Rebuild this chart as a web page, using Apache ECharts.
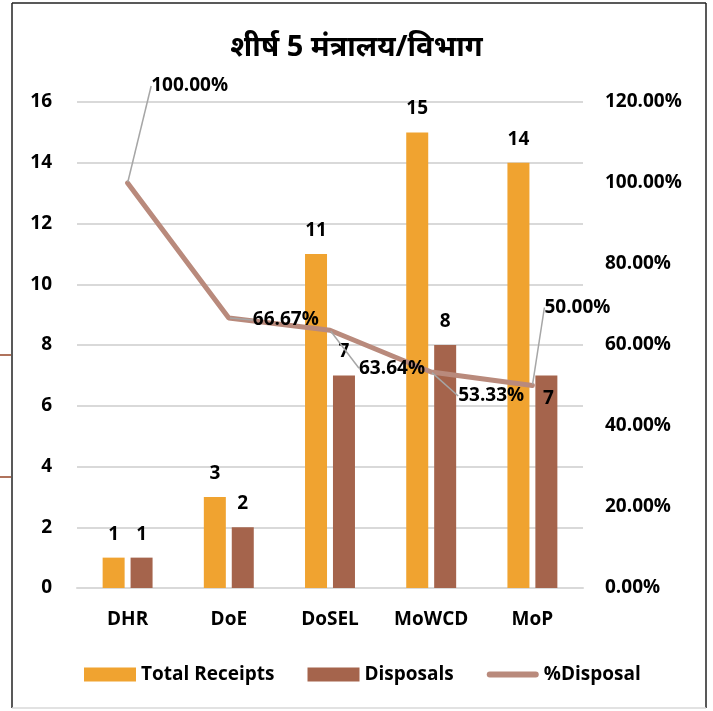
<!DOCTYPE html>
<html>
<head>
<meta charset="utf-8">
<script src="https://cdn.jsdelivr.net/npm/echarts@6/dist/echarts.min.js"></script>
<style>
  html, body { margin: 0; padding: 0; background: #fff; }
  #chart { width: 713px; height: 711px; }
</style>
</head>
<body>
<div id="chart"></div>
<script>
var categories = ['DHR', 'DoE', 'DoSEL', 'MoWCD', 'MoP'];
var totalReceipts = [1, 3, 11, 15, 14];
var disposals = [1, 2, 7, 8, 7];
var pctDisposal = [1.0, 0.6667, 0.6364, 0.5333, 0.5];

// where the % labels sit, relative to their point (px)
var pctLabelShift = [[62, -97], [57, 2], [62, 38], [60, 24], [45, -78]];

var font = '"Open Sans", "Noto Sans", sans-serif';
var myChart = echarts.init(document.getElementById('chart'));

var option = {
    animation: false,
    textStyle: { fontFamily: font },
    title: {
        text: 'शीर्ष 5 मंत्रालय/विभाग',
        left: 'center',
        top: 28,
        textStyle: { color: '#000', fontSize: 29, fontWeight: 'bold', fontFamily: font }
    },
    legend: {
        left: 79,
        top: 660,
        itemWidth: 52,
        itemHeight: 14,
        itemGap: 33,
        textStyle: { color: '#000', fontSize: 19, fontWeight: 'bold' },
        data: [
            { name: 'Total Receipts', icon: 'rect' },
            { name: 'Disposals', icon: 'rect' },
            { name: '%Disposal', icon: 'path://M3,0 L49,0 A3,3 0 0 1 49,6 L3,6 A3,3 0 0 1 3,0 Z' }
        ]
    },
    grid: { left: 77, right: 130, top: 102, bottom: 123 },
    xAxis: {
        type: 'category',
        data: categories,
        axisTick: { show: false },
        axisLine: { lineStyle: { color: '#d9d9d9', width: 2 } },
        axisLabel: { color: '#000', fontSize: 19, fontWeight: 'bold', margin: 22 }
    },
    yAxis: [{
        type: 'value',
        min: 0, max: 16, interval: 2,
        axisLabel: { color: '#000', fontSize: 19, fontWeight: 'bold', margin: 25 },
        splitLine: { lineStyle: { color: '#d9d9d9', width: 2 } }
    }, {
        type: 'value',
        min: 0, max: 1.2, interval: 0.2,
        splitLine: { show: false },
        axisLabel: {
            color: '#000', fontSize: 19, fontWeight: 'bold', margin: 22,
            formatter: function (v) { return (v * 100).toFixed(2) + '%'; }
        }
    }],
    series: [{
        name: 'Total Receipts',
        type: 'bar',
        data: totalReceipts,
        barWidth: 22,
        barGap: '27%',
        itemStyle: { color: '#f0a330' },
        label: { show: true, position: 'top', distance: 14, color: '#000', fontSize: 19, fontWeight: 'bold' }
    }, {
        name: 'Disposals',
        type: 'bar',
        data: disposals.map(function (v, i) {
            if (i === 4) {
                return { value: v, label: { position: 'insideTop', distance: 14, offset: [2, 0] } };
            }
            return v;
        }),
        barWidth: 22,
        itemStyle: { color: '#a5644c' },
        label: { show: true, position: 'top', distance: 14, color: '#000', fontSize: 19, fontWeight: 'bold' }
    }, {
        name: '%Disposal',
        type: 'line',
        yAxisIndex: 1,
        data: pctDisposal,
        symbol: 'circle',
        symbolSize: 2,
        itemStyle: { color: '#b98a7c' },
        lineStyle: { color: '#b98a7c', width: 5, cap: 'round' },
        label: {
            show: true,
            color: '#000', fontSize: 19, fontWeight: 'bold',
            formatter: function (p) { return (p.value * 100).toFixed(2) + '%'; }
        },
        labelLine: { show: true, lineStyle: { color: '#a6a6a6', width: 1.5 } },
        labelLayout: function (p) {
            var s = pctLabelShift[p.dataIndex];
            return {
                x: p.rect.x + p.rect.width / 2 + s[0],
                y: p.rect.y + p.rect.height / 2 + s[1],
                align: 'center',
                verticalAlign: 'middle'
            };
        }
    }],
    graphic: [
        { type: 'line', shape: { x1: 12, y1: 3, x2: 706, y2: 3 }, style: { stroke: '#222', lineWidth: 1.5 } },
        { type: 'line', shape: { x1: 12, y1: 3, x2: 12, y2: 708 }, style: { stroke: '#222', lineWidth: 1.5 } },
        { type: 'line', shape: { x1: 706, y1: 3, x2: 706, y2: 708 }, style: { stroke: '#222', lineWidth: 1.5 } },
        { type: 'line', shape: { x1: 12, y1: 708, x2: 706, y2: 708 }, style: { stroke: '#d9d9d9', lineWidth: 1.5 } },
        { type: 'line', shape: { x1: 0, y1: 355, x2: 11, y2: 355 }, style: { stroke: '#b0735c', lineWidth: 2 } },
        { type: 'line', shape: { x1: 0, y1: 477, x2: 11, y2: 477 }, style: { stroke: '#b0735c', lineWidth: 2 } }
    ]
};
myChart.setOption(option);

window.addEventListener('resize', function () {
    myChart.resize();
});
</script>
</body>
</html>
